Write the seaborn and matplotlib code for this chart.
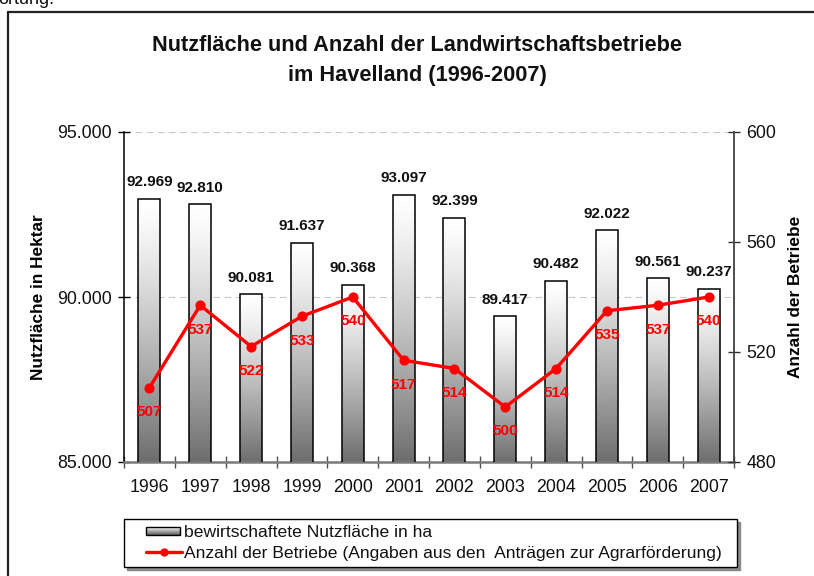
import numpy as np
import pandas as pd
import matplotlib
matplotlib.use("Agg")
import matplotlib.pyplot as plt
import seaborn as sns
from matplotlib.lines import Line2D
from matplotlib.patches import Rectangle
from matplotlib.legend_handler import HandlerBase
from matplotlib.ticker import FixedLocator, FuncFormatter

years = ["1996", "1997", "1998", "1999", "2000", "2001", "2002", "2003", "2004", "2005", "2006", "2007"]
flaeche = [92969, 92810, 90081, 91637, 90368, 93097, 92399, 89417, 90482, 92022, 90561, 90237]
betriebe = [507, 537, 522, 533, 540, 517, 514, 500, 514, 535, 537, 540]

title = "Nutzfläche und Anzahl der Landwirtschaftsbetriebe\nim Havelland (1996-2007)"
ylabel_left = "Nutzfläche in Hektar"
ylabel_right = "Anzahl der Betriebe"
legend_bar = "bewirtschaftete Nutzfläche in ha"
legend_line = "Anzahl der Betriebe (Angaben aus den  Anträgen zur Agrarförderung)"

df = pd.DataFrame({"Jahr": years, "Flaeche": flaeche, "Betriebe": betriebe})

sns.set_theme(style="white")
plt.rcParams["font.family"] = ["Liberation Sans", "DejaVu Sans"]

W, H = 814, 576
fig = plt.figure(figsize=(W / 100, H / 100), dpi=100)
fig.patch.set_facecolor("white")

def fx(px):
    return px / W

def fy(py):
    return 1 - py / H

ax = fig.add_axes([fx(124), fy(462), fx(734) - fx(124), fy(132) - fy(462)])
ax.set_facecolor("none")

sns.barplot(data=df, x="Jahr", y="Flaeche", color="white", edgecolor="black",
            linewidth=1.1, width=0.43, ax=ax, zorder=3)

ylo, yhi = 85000, 95000
ax.set_ylim(ylo, yhi)

# gradient fill for each bar (white top -> dark grey bottom)
grad = np.linspace(0, 1, 256) ** 1.25
grad_img = (1.0 - 0.57 * grad)[::-1].reshape(-1, 1)
for p in ax.patches:
    x0, w = p.get_x(), p.get_width()
    top = p.get_y() + p.get_height()
    p.set_facecolor("none")
    ax.imshow(grad_img, extent=[x0, x0 + w, ylo, top], aspect="auto",
              origin="lower", cmap="gray", vmin=0, vmax=1, zorder=2,
              interpolation="bilinear")
ax.set_xlim(-0.5, len(years) - 0.5)
ax.set_ylim(ylo, yhi)

# bar value labels
for i, v in enumerate(flaeche):
    ax.annotate(f"{v:,}".replace(",", "."), (i, v), xytext=(0, 7),
                textcoords="offset points", ha="center", va="bottom",
                fontsize=11, fontweight="bold", color="#111111", zorder=5)

ax.yaxis.set_major_locator(FixedLocator([85000, 90000, 95000]))
ax.yaxis.set_major_formatter(FuncFormatter(lambda v, pos: f"{int(v):,}".replace(",", ".")))
ax.grid(axis="y", color="#c8c8c8", linestyle=(0, (6, 4)), linewidth=0.8, zorder=0)
ax.set_axisbelow(True)

ax.set_xlabel("")
ax.set_ylabel(ylabel_left, fontsize=12.4, fontweight="bold", color="black")
ax.yaxis.set_label_coords(-0.128, 0.5)

ax.tick_params(axis="y", which="major", direction="inout", length=8, width=1,
               color="black", labelsize=12.8, pad=5, labelcolor="#111111", left=True)
ax.tick_params(axis="x", which="major", length=0, labelsize=12.8, pad=12, labelcolor="#111111")
ax.xaxis.set_minor_locator(FixedLocator(np.arange(-0.5, len(years), 1.0)))
ax.tick_params(axis="x", which="minor", direction="inout", length=8, width=1,
               color="#505050", bottom=True)

ax.spines["top"].set_visible(False)
ax.spines["left"].set_color("black")
ax.spines["left"].set_linewidth(1.1)
ax.spines["bottom"].set_color("#7a7a7a")
ax.spines["bottom"].set_linewidth(1.8)
ax.spines["right"].set_visible(False)

# line on secondary axis
ax2 = ax.twinx()
sns.pointplot(data=df, x="Jahr", y="Betriebe", color="#ff0000", markers="o",
              markersize=5.5, linewidth=2.4, ax=ax2, zorder=6)
ax2.set_xlim(-0.5, len(years) - 0.5)
ax2.set_ylim(480, 600)
ax2.yaxis.set_major_locator(FixedLocator([480, 520, 560, 600]))
ax2.grid(False)
for i, v in enumerate(betriebe):
    ax2.annotate(str(v), (i, v), xytext=(0, -12.5), textcoords="offset points",
                 ha="center", va="top", fontsize=11, fontweight="bold",
                 color="#ff0000", zorder=7)
ax2.set_ylabel(ylabel_right, fontsize=12.4, fontweight="bold", color="black")
ax2.yaxis.set_label_position("right")
ax2.yaxis.set_label_coords(1.089, 0.5)
ax2.tick_params(axis="y", which="major", direction="inout", length=8, width=1,
                color="#303030", labelsize=12.8, pad=5, labelcolor="#111111",
                right=True, left=False)
for s in ["top", "left", "bottom"]:
    ax2.spines[s].set_visible(False)
ax2.spines["right"].set_color("#404040")
ax2.spines["right"].set_linewidth(1.3)
ax2.set_xlabel("")

# title
fig.text(fx(417), fy(35), title, ha="center", va="top", fontsize=15.7,
         fontweight="bold", color="#111111", linespacing=1.55)

# outer frame (extends beyond the image) and cut-off text at top
fig.add_artist(Line2D([fx(8), fx(8)], [fy(12), fy(600)], color="#222222", lw=1.6))
fig.add_artist(Line2D([fx(8), fx(830)], [fy(12), fy(12)], color="#222222", lw=1.6))
fig.text(fx(-2), fy(4), "ortung.", ha="left", va="baseline", fontsize=13, color="#111111")

# legend handlers: draw the symbol in the right part of the handle box
SKIP = 0.32

class GradientHandler(HandlerBase):
    def create_artists(self, legend, orig_handle, xdescent, ydescent, width, height, fontsize, trans):
        arts = []
        x0 = -xdescent + width * SKIP
        bw = width * (1 - SKIP) * 0.95
        bh = height * 0.62
        y0 = -ydescent + (height - bh) / 2
        n = 12
        for k in range(n):
            t = k / (n - 1)
            g = 1.0 - 0.6 * (1 - t)
            arts.append(Rectangle((x0, y0 + bh * k / n), bw, bh / n, facecolor=(g, g, g),
                                  edgecolor="none", transform=trans))
        arts.append(Rectangle((x0, y0), bw, bh, facecolor="none", edgecolor="black",
                              linewidth=1.0, transform=trans))
        return arts

class RedLineHandler(HandlerBase):
    def create_artists(self, legend, orig_handle, xdescent, ydescent, width, height, fontsize, trans):
        x0 = -xdescent + width * SKIP
        x1 = -xdescent + width
        yc = -ydescent + height / 2
        ln = Line2D([x0, x1], [yc, yc], color=orig_handle.get_color(),
                    lw=orig_handle.get_linewidth(), transform=trans)
        mk = Line2D([(x0 + x1) / 2], [yc], color=orig_handle.get_color(), marker="o",
                    markersize=orig_handle.get_markersize(), linestyle="none", transform=trans)
        return [ln, mk]

bar_handle = Rectangle((0, 0), 1, 1)
line_handle = Line2D([], [], color="#ff0000", lw=2.4, marker="o", markersize=5)
leg = fig.legend([bar_handle, line_handle], [legend_bar, legend_line],
                 handler_map={Rectangle: GradientHandler(), Line2D: RedLineHandler()},
                 loc="lower left", bbox_to_anchor=(fx(124), fy(567), fx(737) - fx(124), fy(519) - fy(567)),
                 bbox_transform=fig.transFigure, mode="expand", fontsize=12.6,
                 frameon=True, fancybox=False, shadow={"color": "#8a8a8a", "alpha": 1},
                 handlelength=3.0, handletextpad=0.1, borderpad=0.32, labelspacing=0.36,
                 borderaxespad=0)
leg.get_frame().set_edgecolor("black")
leg.get_frame().set_linewidth(1.0)
for t in leg.get_texts():
    t.set_color("#111111")

fig.savefig("out.png", dpi=100)
